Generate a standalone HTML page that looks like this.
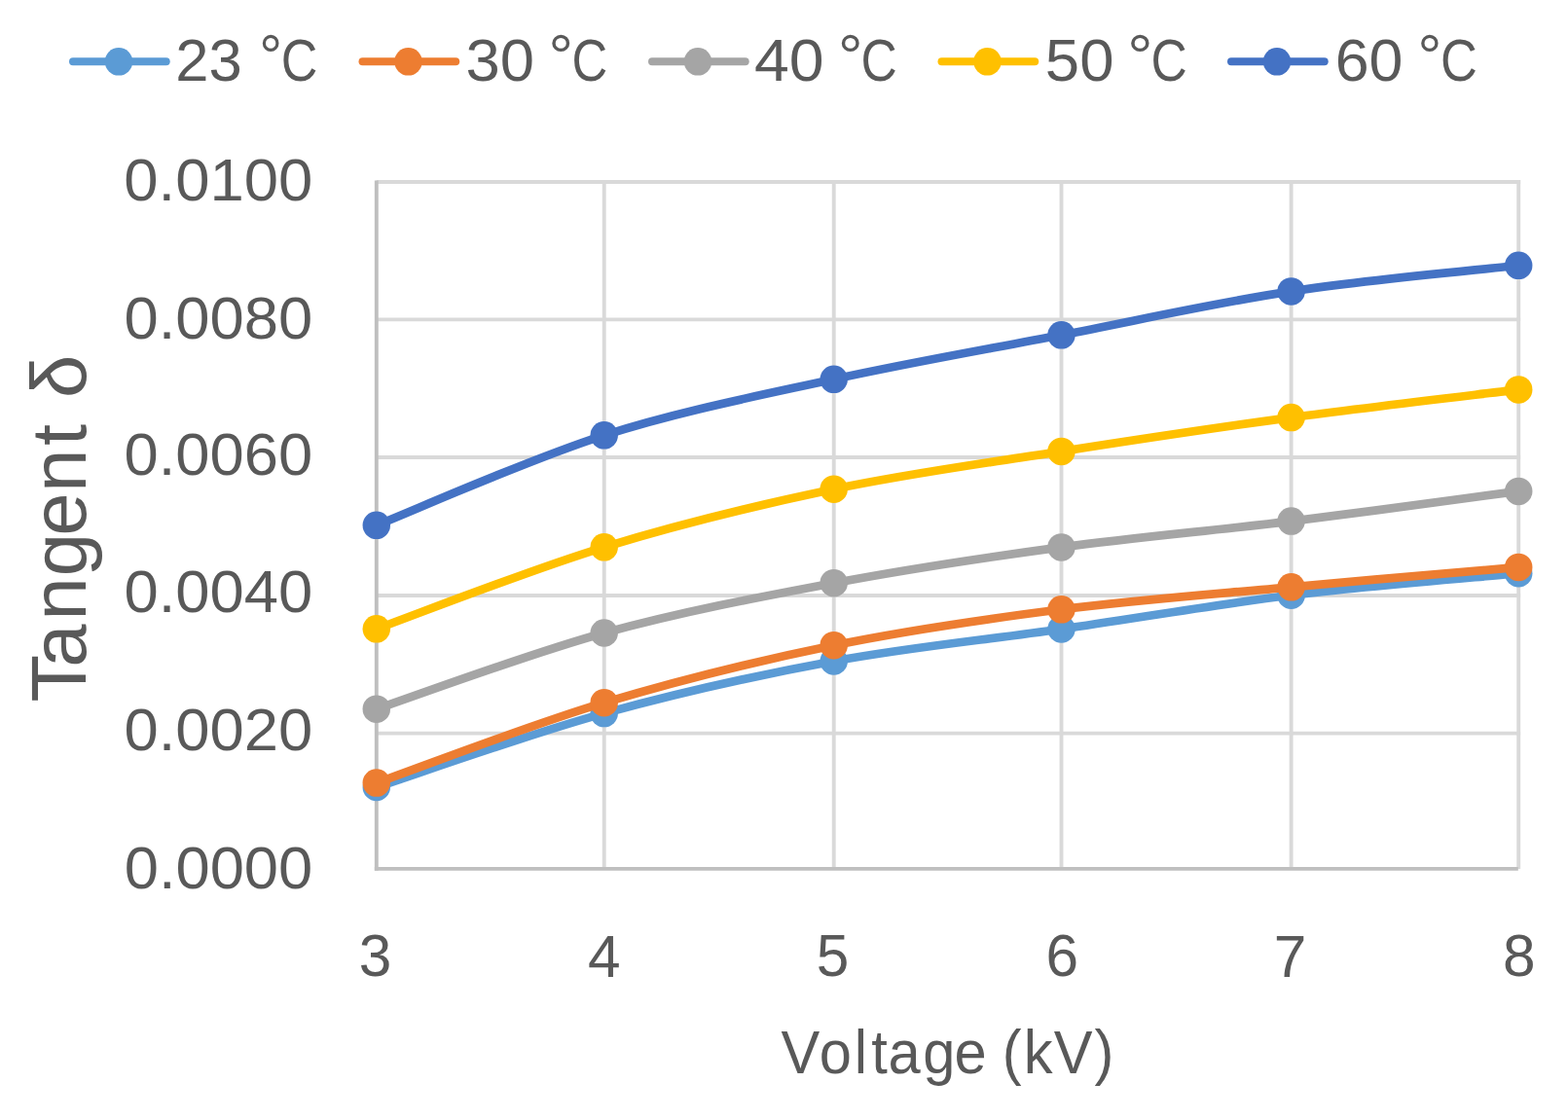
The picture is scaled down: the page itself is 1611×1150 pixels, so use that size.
<!DOCTYPE html>
<html><head><meta charset="utf-8"><title>Tangent delta vs Voltage</title>
<style>
html,body{margin:0;padding:0;background:#fff;}
body{width:1611px;height:1150px;overflow:hidden;}
svg{display:block;}
text{font-family:'Liberation Sans', sans-serif;fill:#595959;}
</style></head><body>
<svg width="1611" height="1150" viewBox="0 0 1611 1150">
<rect width="1611" height="1150" fill="#fff"/>
<g stroke="#D9D9D9" stroke-width="3.90"><line x1="386.80" y1="186.95" x2="1562.15" y2="186.95"/><line x1="386.80" y1="328.40" x2="1562.15" y2="328.40"/><line x1="386.80" y1="470.00" x2="1562.15" y2="470.00"/><line x1="386.80" y1="612.00" x2="1562.15" y2="612.00"/><line x1="386.80" y1="753.60" x2="1562.15" y2="753.60"/><line x1="620.70" y1="185.00" x2="620.70" y2="893.05"/><line x1="856.70" y1="185.00" x2="856.70" y2="893.05"/><line x1="1090.50" y1="185.00" x2="1090.50" y2="893.05"/><line x1="1326.60" y1="185.00" x2="1326.60" y2="893.05"/><line x1="1560.20" y1="185.00" x2="1560.20" y2="893.05"/></g>
<g stroke="#BFBFBF" stroke-width="3.90"><line x1="386.80" y1="185.50" x2="386.80" y2="894.80"/><line x1="384.85" y1="892.85" x2="1559.80" y2="892.85"/></g>
<path d="M386.80,809.00 C425.78,796.35 542.38,754.68 620.70,733.10 C699.02,711.52 778.40,693.93 856.70,679.50 C935.00,665.07 1012.18,657.80 1090.50,646.50 C1168.82,635.20 1248.32,621.25 1326.60,611.70 C1404.88,602.15 1521.27,592.95 1560.20,589.20" fill="none" stroke="#5B9BD5" stroke-width="8.70" stroke-linecap="round" stroke-linejoin="round"/>
<g fill="#5B9BD5"><circle cx="386.80" cy="809.00" r="14.25"/><circle cx="620.70" cy="733.10" r="14.25"/><circle cx="856.70" cy="679.50" r="14.25"/><circle cx="1090.50" cy="646.50" r="14.25"/><circle cx="1326.60" cy="611.70" r="14.25"/><circle cx="1560.20" cy="589.20" r="14.25"/></g>
<path d="M386.80,804.60 C425.78,790.87 542.38,745.77 620.70,722.20 C699.02,698.63 778.40,679.18 856.70,663.20 C935.00,647.22 1012.18,636.28 1090.50,626.30 C1168.82,616.32 1248.32,610.53 1326.60,603.30 C1404.88,596.07 1521.27,586.30 1560.20,582.90" fill="none" stroke="#ED7D31" stroke-width="8.70" stroke-linecap="round" stroke-linejoin="round"/>
<g fill="#ED7D31"><circle cx="386.80" cy="804.60" r="14.25"/><circle cx="620.70" cy="722.20" r="14.25"/><circle cx="856.70" cy="663.20" r="14.25"/><circle cx="1090.50" cy="626.30" r="14.25"/><circle cx="1326.60" cy="603.30" r="14.25"/><circle cx="1560.20" cy="582.90" r="14.25"/></g>
<path d="M386.80,728.70 C425.78,715.67 542.38,672.08 620.70,650.50 C699.02,628.92 778.40,613.88 856.70,599.20 C935.00,584.52 1012.18,573.00 1090.50,562.40 C1168.82,551.80 1248.32,545.18 1326.60,535.60 C1404.88,526.02 1521.27,510.02 1560.20,504.90" fill="none" stroke="#A5A5A5" stroke-width="8.70" stroke-linecap="round" stroke-linejoin="round"/>
<g fill="#A5A5A5"><circle cx="386.80" cy="728.70" r="14.25"/><circle cx="620.70" cy="650.50" r="14.25"/><circle cx="856.70" cy="599.20" r="14.25"/><circle cx="1090.50" cy="562.40" r="14.25"/><circle cx="1326.60" cy="535.60" r="14.25"/><circle cx="1560.20" cy="504.90" r="14.25"/></g>
<path d="M386.80,646.30 C425.78,632.30 542.38,586.23 620.70,562.30 C699.02,538.37 778.40,519.10 856.70,502.70 C935.00,486.30 1012.18,476.17 1090.50,463.90 C1168.82,451.63 1248.32,439.68 1326.60,429.10 C1404.88,418.52 1521.27,405.18 1560.20,400.40" fill="none" stroke="#FFC000" stroke-width="8.70" stroke-linecap="round" stroke-linejoin="round"/>
<g fill="#FFC000"><circle cx="386.80" cy="646.30" r="14.25"/><circle cx="620.70" cy="562.30" r="14.25"/><circle cx="856.70" cy="502.70" r="14.25"/><circle cx="1090.50" cy="463.90" r="14.25"/><circle cx="1326.60" cy="429.10" r="14.25"/><circle cx="1560.20" cy="400.40" r="14.25"/></g>
<path d="M386.80,539.80 C425.78,524.38 542.38,472.30 620.70,447.30 C699.02,422.30 778.40,406.97 856.70,389.80 C935.00,372.63 1012.18,359.37 1090.50,344.30 C1168.82,329.23 1248.32,311.32 1326.60,299.40 C1404.88,287.48 1521.27,277.23 1560.20,272.80" fill="none" stroke="#4472C4" stroke-width="8.70" stroke-linecap="round" stroke-linejoin="round"/>
<g fill="#4472C4"><circle cx="386.80" cy="539.80" r="14.25"/><circle cx="620.70" cy="447.30" r="14.25"/><circle cx="856.70" cy="389.80" r="14.25"/><circle cx="1090.50" cy="344.30" r="14.25"/><circle cx="1326.60" cy="299.40" r="14.25"/><circle cx="1560.20" cy="272.80" r="14.25"/></g>
<text x="127.32" y="206.11" font-size="60.47" textLength="193.95" lengthAdjust="spacingAndGlyphs">0.0100</text>
<text x="127.53" y="348.30" font-size="60.75" textLength="193.75" lengthAdjust="spacingAndGlyphs">0.0080</text>
<text x="127.53" y="487.90" font-size="61.18" textLength="193.75" lengthAdjust="spacingAndGlyphs">0.0060</text>
<text x="127.53" y="629.40" font-size="60.75" textLength="193.75" lengthAdjust="spacingAndGlyphs">0.0040</text>
<text x="127.53" y="771.30" font-size="60.75" textLength="193.75" lengthAdjust="spacingAndGlyphs">0.0020</text>
<text x="127.73" y="912.80" font-size="60.75" textLength="193.54" lengthAdjust="spacingAndGlyphs">0.0000</text>
<text x="368.80" y="1003.11" font-size="60.33" textLength="33.55" lengthAdjust="spacingAndGlyphs">3</text>
<text x="603.92" y="1003.70" font-size="60.33" textLength="33.55" lengthAdjust="spacingAndGlyphs">4</text>
<text x="838.68" y="1003.11" font-size="60.33" textLength="33.55" lengthAdjust="spacingAndGlyphs">5</text>
<text x="1074.42" y="1003.11" font-size="60.33" textLength="33.55" lengthAdjust="spacingAndGlyphs">6</text>
<text x="1308.69" y="1003.70" font-size="60.33" textLength="33.55" lengthAdjust="spacingAndGlyphs">7</text>
<text x="1544.02" y="1003.11" font-size="60.33" textLength="33.55" lengthAdjust="spacingAndGlyphs">8</text>
<text transform="scale(0.950,1)" x="844.74 886.12 923.90 942.24 960.63 998.24 1032.13 1067.05 1083.94 1107.14 1139.69 1183.57" y="1102.6" font-size="62.79">Voltage (kV)</text>
<text transform="translate(88.4,720.0) rotate(-90) scale(0.989,1)" x="-1.57 34.64 83.52 129.17 171.11 216.68 265.04 287.41 314.36" y="0" font-size="80.52">Tangent δ</text>
<line x1="75.00" y1="63.30" x2="170.70" y2="63.30" stroke="#5B9BD5" stroke-width="8" stroke-linecap="round"/>
<circle cx="122.00" cy="63.30" r="14.25" fill="#5B9BD5"/>
<text y="83.21" font-size="60.61"><tspan x="180.31" textLength="68.39" lengthAdjust="spacingAndGlyphs">23</tspan> <tspan x="266.25" dy="-3.79" textLength="23.83" lengthAdjust="spacingAndGlyphs">°</tspan><tspan x="288.85" dy="3.79" textLength="37.63" lengthAdjust="spacingAndGlyphs">C</tspan></text>
<line x1="372.50" y1="63.30" x2="468.20" y2="63.30" stroke="#ED7D31" stroke-width="8" stroke-linecap="round"/>
<circle cx="419.50" cy="63.30" r="14.25" fill="#ED7D31"/>
<text y="83.21" font-size="60.61"><tspan x="478.49" textLength="70.49" lengthAdjust="spacingAndGlyphs">30</tspan> <tspan x="563.50" dy="-3.79" textLength="25.54" lengthAdjust="spacingAndGlyphs">°</tspan><tspan x="587.62" dy="3.79" textLength="36.72" lengthAdjust="spacingAndGlyphs">C</tspan></text>
<line x1="670.00" y1="63.30" x2="765.70" y2="63.30" stroke="#A5A5A5" stroke-width="8" stroke-linecap="round"/>
<circle cx="717.00" cy="63.30" r="14.25" fill="#A5A5A5"/>
<text y="83.21" font-size="60.61"><tspan x="774.92" textLength="71.59" lengthAdjust="spacingAndGlyphs">40</tspan> <tspan x="861.00" dy="-3.79" textLength="25.54" lengthAdjust="spacingAndGlyphs">°</tspan><tspan x="884.58" dy="3.79" textLength="37.29" lengthAdjust="spacingAndGlyphs">C</tspan></text>
<line x1="967.50" y1="63.30" x2="1063.20" y2="63.30" stroke="#FFC000" stroke-width="8" stroke-linecap="round"/>
<circle cx="1014.50" cy="63.30" r="14.25" fill="#FFC000"/>
<text y="83.21" font-size="60.61"><tspan x="1073.86" textLength="70.62" lengthAdjust="spacingAndGlyphs">50</tspan> <tspan x="1158.39" dy="-3.79" textLength="26.25" lengthAdjust="spacingAndGlyphs">°</tspan><tspan x="1182.58" dy="3.79" textLength="37.29" lengthAdjust="spacingAndGlyphs">C</tspan></text>
<line x1="1265.00" y1="63.30" x2="1360.70" y2="63.30" stroke="#4472C4" stroke-width="8" stroke-linecap="round"/>
<circle cx="1312.00" cy="63.30" r="14.25" fill="#4472C4"/>
<text y="83.21" font-size="60.61"><tspan x="1371.72" textLength="69.73" lengthAdjust="spacingAndGlyphs">60</tspan> <tspan x="1456.60" dy="-3.79" textLength="24.83" lengthAdjust="spacingAndGlyphs">°</tspan><tspan x="1480.04" dy="3.79" textLength="37.86" lengthAdjust="spacingAndGlyphs">C</tspan></text>
</svg>
</body></html>
